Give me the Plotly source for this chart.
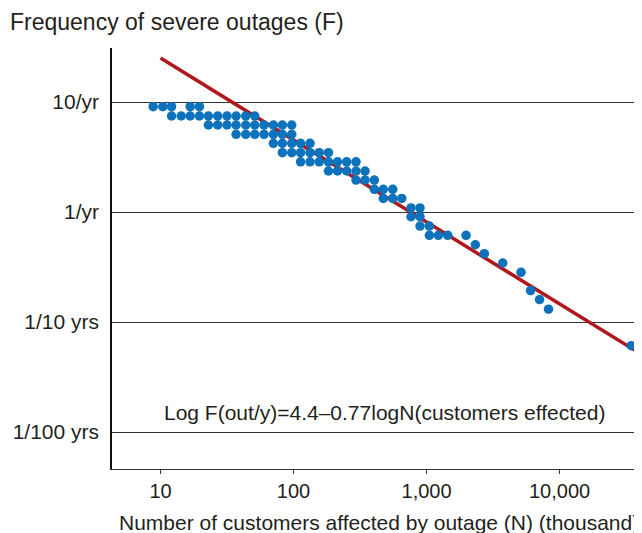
import plotly.graph_objects as go

# Outages: N = customers affected (thousand), F = frequency per year
outage_N = [
    8.8, 10.4, 12.1, 16.7, 19.6,
    12.1, 14.3, 16.7, 19.6, 22.9, 26.9, 31.6, 37.0, 43.7, 51.1,
    22.9, 26.9, 31.6, 37.0, 43.7, 51.1, 60.0, 70.5, 82.4, 96.9,
    37.0, 43.7, 51.1, 60.0, 70.5, 82.4, 96.9,
    70.5, 82.4, 96.9, 113, 133,
    82.4, 96.9, 113, 133, 156, 183,
    113, 133, 156, 183, 214, 251, 295,
    183, 214, 251, 295, 345,
    295, 345, 405,
    405, 473, 557,
    473, 557, 651,
    764, 893,
    764, 893,
    893, 1050,
    1050, 1227, 1443, 1982,
    2328, 2721, 3741, 5134, 6053, 7072, 8267, 34670,
]
outage_F = [
    9.06, 9.06, 9.06, 9.06, 9.06,
    7.46, 7.46, 7.46, 7.46, 7.46, 7.46, 7.46, 7.46, 7.46, 7.46,
    6.18, 6.18, 6.18, 6.18, 6.18, 6.18, 6.18, 6.18, 6.18, 6.18,
    5.09, 5.09, 5.09, 5.09, 5.09, 5.09, 5.09,
    4.21, 4.21, 4.21, 4.21, 4.21,
    3.46, 3.46, 3.46, 3.46, 3.46, 3.46,
    2.86, 2.86, 2.86, 2.86, 2.86, 2.86, 2.86,
    2.36, 2.36, 2.36, 2.36, 2.36,
    1.95, 1.95, 1.95,
    1.61, 1.61, 1.61,
    1.33, 1.33, 1.33,
    1.09, 1.09,
    0.906, 0.906,
    0.746, 0.746,
    0.614, 0.614, 0.614, 0.614,
    0.504, 0.418, 0.344, 0.283, 0.193, 0.160, 0.131, 0.061,
]

# Fitted power-law line
fit_N = [10, 40000]
fit_F = [25.1, 0.052]

x_tick_vals = [10, 100, 1000, 10000]
x_tick_text = ["10", "100", "1,000", "10,000"]
y_tick_vals = [10, 1, 0.1, 0.01]
y_tick_text = ["10/yr", "1/yr", "1/10 yrs", "1/100 yrs"]

FONT = "Liberation Sans, Arial, sans-serif"
TXT = "#231f20"

fig = go.Figure()
fig.add_trace(go.Scatter(
    x=fit_N, y=fit_F, mode="lines",
    line=dict(color="#b0181e", width=3.5),
    hoverinfo="skip", showlegend=False,
))
fig.add_trace(go.Scatter(
    x=outage_N, y=outage_F, mode="markers",
    marker=dict(color="#0b72bb", size=9.5, line=dict(width=0)),
    showlegend=False,
))

# page body has an 8px margin: figure spans screen x 8..642, y 8..533
fig.update_layout(
    width=634, height=525,
    margin=dict(l=104, r=0, t=40, b=64),
    paper_bgcolor="white", plot_bgcolor="white",
    font=dict(family=FONT, size=20, color=TXT),
    xaxis=dict(
        type="log", range=[0.635, 4.62],
        tickvals=x_tick_vals, ticktext=x_tick_text,
        showgrid=False, zeroline=False,
        showline=True, linecolor="#333333", linewidth=1,
        ticks="outside", ticklen=4, tickcolor="#333333", tickwidth=1,
        tickfont=dict(size=20, color=TXT),
    ),
    yaxis=dict(
        type="log", range=[-2.336, 1.491],
        tickvals=y_tick_vals, ticktext=y_tick_text,
        showgrid=True, gridcolor="#333333", gridwidth=1,
        zeroline=False,
        showline=True, linecolor="#111111", linewidth=1.5,
        ticks="", ticklabelstandoff=7,
        tickfont=dict(size=21, color=TXT),
    ),
    annotations=[
        dict(text="Frequency of severe outages (F)", xref="paper", yref="paper",
             x=(8 - 112) / 530, y=(469 - 22) / 421, xanchor="left", yanchor="middle",
             showarrow=False, font=dict(size=23, color=TXT)),
        dict(text="Number of customers affected by outage (N) (thousand)",
             xref="paper", yref="paper",
             x=(117 - 112) / 530, y=(469 - 522) / 421, xanchor="left", yanchor="middle",
             showarrow=False, font=dict(size=21, color=TXT)),
        dict(text="Log F(out/y)=4.4\u20130.77logN(customers effected)",
             xref="paper", yref="paper",
             x=(384 - 112) / 530, y=(469 - 412) / 421, xanchor="center", yanchor="middle",
             showarrow=False, font=dict(size=21, color=TXT)),
    ],
)

fig.write_html("out.html")
